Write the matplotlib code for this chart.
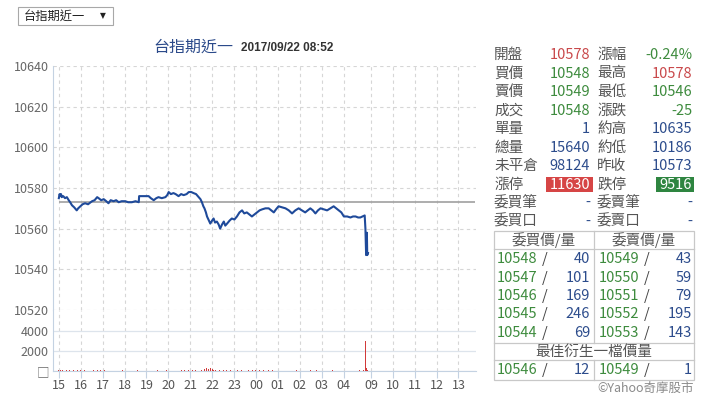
import matplotlib
matplotlib.use('Agg')
import matplotlib.pyplot as plt
from matplotlib.patches import Rectangle

plt.rcParams['font.family'] = ['Noto Sans CJK TC', 'DejaVu Sans']

# --- data --------------------------------------------------------------
price_times = ['15:00', '15:02', '15:04', '15:06', '15:08', '15:12', '15:17', '15:22',
               '15:27', '15:31', '15:36', '15:42', '15:49', '15:53', '15:59', '16:05',
               '16:12', '16:20', '16:31', '16:38', '16:45', '16:49', '16:56', '17:03',
               '17:10', '17:16', '17:22', '17:30', '17:37', '17:44', '17:52', '18:02',
               '18:10', '18:20', '18:30', '18:39', '18:40', '18:52', '19:06', '19:12',
               '19:20', '19:27', '19:33', '19:42', '19:52', '19:57', '20:01', '20:07',
               '20:14', '20:20', '20:28', '20:35', '20:42', '20:50', '20:56', '21:03',
               '21:09', '21:16', '21:23', '21:28', '21:32', '21:36', '21:39', '21:43',
               '21:46', '21:50', '21:55', '22:00', '22:04', '22:08', '22:13', '22:18',
               '22:22', '22:27', '22:32', '22:36', '22:41', '22:48', '22:54', '23:01',
               '23:08', '23:15', '23:22', '23:28', '23:35', '23:42', '23:49', '23:56',
               '00:03', '00:10', '00:17', '00:26', '00:35', '00:42', '00:49', '00:55',
               '01:02', '01:12', '01:21', '01:30', '01:39', '01:48', '01:57', '02:06',
               '02:15', '02:22', '02:29', '02:36', '02:43', '02:50', '02:57', '03:06',
               '03:15', '03:24', '03:33', '03:40', '03:47', '03:54', '04:01', '04:10',
               '04:19', '04:26', '04:33', '04:40', '04:46', '04:52', '04:58',
               '08:45', '08:47', '08:49', '08:50', '08:52']
prices = [10575, 10577, 10576, 10577, 10575.5, 10576, 10575, 10575.5,
          10574, 10573, 10571.5, 10570.5, 10569, 10570, 10571, 10572,
          10572.5, 10572, 10573.5, 10574, 10575.5, 10575, 10574, 10574.5,
          10573.5, 10572.5, 10574, 10573.5, 10574, 10573, 10573.5, 10573.5,
          10573, 10573, 10573.5, 10573, 10576, 10576, 10576, 10575,
          10574, 10575, 10575.5, 10575, 10575.5, 10576.5, 10578, 10577,
          10577.5, 10577, 10576, 10577, 10576.5, 10577, 10578, 10578,
          10577.5, 10577, 10575.5, 10574.5, 10573, 10571, 10570, 10568,
          10566, 10564.5, 10562.5, 10564, 10565, 10563, 10563.5, 10562,
          10560, 10562, 10563.5, 10561.5, 10562.5, 10564, 10565, 10564.5,
          10566, 10568, 10569, 10567.5, 10568, 10567, 10566, 10567,
          10568, 10569, 10569.5, 10570, 10570, 10569, 10568, 10569.5,
          10571, 10570.5, 10570, 10569, 10567.5, 10569, 10570, 10569,
          10568, 10569, 10570, 10569, 10567.5, 10569, 10570, 10569.5,
          10569, 10570, 10571, 10570, 10569, 10568, 10566, 10566,
          10565.5, 10566, 10566, 10565.5, 10565.5, 10566, 10566.5,
          10560, 10547, 10558, 10547, 10548]
prev_close = 10573

vol_times = ['15:00', '15:05', '15:10', '15:20', '15:30', '15:40', '15:50', '16:00',
             '16:10', '16:20', '16:35', '16:45', '16:55', '17:05', '17:55', '18:35',
             '18:45', '19:30', '19:40', '19:55', '20:35', '20:45', '20:55', '21:05',
             '21:15', '21:30', '21:40', '21:45', '21:50', '21:55', '22:00', '22:05',
             '22:10', '22:20', '22:30', '22:40', '22:50', '23:00', '23:10', '23:20',
             '23:30', '23:40', '23:50', '00:00', '00:10', '00:20', '00:35', '00:45',
             '01:50', '02:20', '02:30', '02:45', '03:30', '03:45', '04:45', '04:55',
             '08:45', '08:46', '08:47', '08:48', '08:50']
volumes = [150, 100, 120, 80, 100, 90, 120, 80,
           100, 60, 80, 100, 70, 90, 60, 80,
           70, 60, 80, 60, 80, 100, 90, 70,
           100, 120, 200, 300, 250, 350, 200, 150,
           120, 100, 80, 90, 80, 70, 90, 80,
           70, 80, 60, 70, 60, 80, 60, 60,
           60, 70, 60, 70, 60, 80, 60, 150,
           3000, 700, 300, 200, 150]

hour_labels = ['15', '16', '17', '18', '19', '20', '21', '22', '23', '00',
               '01', '02', '03', '04', '09', '10', '11', '12', '13']
price_ticks = [10520, 10540, 10560, 10580, 10600, 10620, 10640]
vol_ticks = [0, 2000, 4000]
vol_tick_labels = ['\u25a1', '2000', '4000']

title_name = '台指期近一'
title_time = '2017/09/22 08:52'

info_left_labels = ['開盤', '買價', '賣價', '成交', '單量', '總量', '未平倉', '漲停', '委買筆', '委買口']
info_left_values = ['10578', '10548', '10549', '10548', '1', '15640', '98124', '11630', '-', '-']
info_right_labels = ['漲幅', '最高', '最低', '漲跌', '約高', '約低', '昨收', '跌停', '委賣筆', '委賣口']
info_right_values = ['-0.24%', '10578', '10546', '-25', '10635', '10186', '10573', '9516', '-', '-']

bid_prices = ['10548', '10547', '10546', '10545', '10544']
bid_qty = ['40', '101', '169', '246', '69']
ask_prices = ['10549', '10550', '10551', '10552', '10553']
ask_qty = ['43', '59', '79', '195', '143']
best_bid = ('10546', '12')
best_ask = ('10549', '1')

RED = '#c9494b'
GREEN = '#3d8b3d'
BLUE = '#2c4c8c'
LABEL = '#555555'
LINE = '#1f4a9a'
GRID = '#d6d6d6'
AXIS = '#c4d2e2'


def idx(t):
    """Minutes on the session axis: night 15:00-05:00, then day 08:45-13:45."""
    h, m = map(int, t.split(':'))
    if h >= 15:
        return (h - 15) * 60 + m
    if h < 6:
        return (h + 9) * 60 + m
    return 840 + (h - 8) * 60 + m - 45


fig = plt.figure(figsize=(7.2, 4.15), dpi=100)
ax = fig.add_axes([53 / 720, 1 - 310 / 415, 423 / 720, 244 / 415])
axv = fig.add_axes([53 / 720, 1 - 371 / 415, 423 / 720, 61 / 415], sharex=ax)

xt = [idx(h + ':00') for h in hour_labels]

# price panel
ax.hlines(prev_close, idx('15:00'), idx('13:45'), color='#a0a0a0', lw=1.2, zorder=2)
ax.plot([idx(t) for t in price_times], prices, color=LINE, lw=1.5, zorder=3)
ax.set_ylim(10520, 10640)
ax.set_yticks(price_ticks)
ax.set_xlim(-16, 1143)
ax.set_xticks(xt)
ax.grid(True, color=GRID, linestyle=(0, (3, 3)), lw=0.8)
for s in ['top', 'right', 'bottom']:
    ax.spines[s].set_visible(False)
ax.spines['left'].set_color(AXIS)
ax.tick_params(axis='y', length=0, labelsize=9, labelcolor='#666666', pad=3)
ax.tick_params(axis='x', length=0, labelbottom=False)

# volume panel
axv.bar([idx(t) for t in vol_times], volumes, width=2.5, color='#d23a3a', zorder=3)
axv.set_ylim(0, 6100)
axv.set_yticks(vol_ticks)
axv.set_yticklabels(vol_tick_labels)
axv.set_xticks(xt)
axv.set_xticklabels(hour_labels)
axv.grid(axis='x', color=GRID, linestyle=(0, (3, 3)), lw=0.8)
axv.grid(axis='y', color='#dde4ec', linestyle='-', lw=0.9)
for s in ['top', 'right']:
    axv.spines[s].set_visible(False)
axv.spines['left'].set_color(AXIS)
axv.spines['bottom'].set_color(AXIS)
axv.tick_params(axis='y', length=0, labelsize=9, labelcolor='#666666', pad=3)
axv.tick_params(axis='x', length=5, color=AXIS, labelsize=9, labelcolor='#555555', pad=1)

# overlay in pixel coordinates for the page furniture
ov = fig.add_axes([0, 0, 1, 1])
ov.set_xlim(0, 720)
ov.set_ylim(415, 0)
ov.axis('off')

ov.add_patch(Rectangle((18, 7), 95, 18.5, fill=False, edgecolor='#a8a8a8', lw=0.8))
ov.text(24, 16.5, title_name, fontsize=8.8, color='#222222', va='center')
ov.text(100, 16, '\u25bc', fontsize=5.5, color='#222222', va='center', family='DejaVu Sans')

ov.text(153, 47, title_name, fontsize=11.5, color='#2b4a8a', va='center')
ov.text(241, 48, title_time, fontsize=8.5, color='#333333', va='center',
        family='Liberation Sans', fontweight='bold')

# quote table
left_colors = [RED, GREEN, GREEN, GREEN, BLUE, BLUE, BLUE, 'white', BLUE, BLUE]
right_colors = [GREEN, RED, GREEN, GREEN, BLUE, BLUE, BLUE, 'white', BLUE, BLUE]
for i in range(len(info_left_labels)):
    y = 55 + i * 18.5
    if info_left_labels[i] == '漲停':
        ov.add_patch(Rectangle((546, y - 7.5), 47, 15, color='#d64545', lw=0))
        ov.add_patch(Rectangle((656, y - 7.5), 38, 15, color='#2e8540', lw=0))
    ov.text(494, y, info_left_labels[i], fontsize=10.5, color=LABEL, va='center')
    ov.text(590, y, info_left_values[i], fontsize=10.5, color=left_colors[i], va='center', ha='right')
    ov.text(597, y, info_right_labels[i], fontsize=10.5, color=LABEL, va='center')
    ov.text(692, y, info_right_values[i], fontsize=10.5, color=right_colors[i], va='center', ha='right')

# order book
bc = '#c8c8c8'
ov.add_patch(Rectangle((494, 231), 200, 149, fill=False, edgecolor=bc, lw=0.9))
for yy in [249, 343.3, 360]:
    ov.plot([494, 694], [yy, yy], color=bc, lw=0.9)
ov.plot([593.5, 593.5], [231, 343.3], color=bc, lw=0.9)
ov.plot([593.5, 593.5], [360, 380], color=bc, lw=0.9)
ov.text(544, 240, '委買價/量', fontsize=10.5, color=LABEL, va='center', ha='center')
ov.text(644, 240, '委賣價/量', fontsize=10.5, color=LABEL, va='center', ha='center')


def book_row(y, bp, bq, ap, aq):
    ov.text(497, y, bp, fontsize=10.5, color=GREEN, va='center')
    ov.text(545, y, '/', fontsize=10.5, color='#444444', va='center', ha='center')
    ov.text(590, y, bq, fontsize=10.5, color=BLUE, va='center', ha='right')
    ov.text(599, y, ap, fontsize=10.5, color=GREEN, va='center')
    ov.text(647, y, '/', fontsize=10.5, color='#444444', va='center', ha='center')
    ov.text(692, y, aq, fontsize=10.5, color=BLUE, va='center', ha='right')


for i in range(len(bid_prices)):
    book_row(259.3 + i * 18.3, bid_prices[i], bid_qty[i], ask_prices[i], ask_qty[i])
ov.text(594, 351.7, '最佳衍生一檔價量', fontsize=10.5, color=LABEL, va='center', ha='center')
book_row(370, best_bid[0], best_bid[1], best_ask[0], best_ask[1])

ov.text(694, 388.5, '©Yahoo奇摩股市', fontsize=9, color='#8a8a8a', va='center', ha='right')

fig.savefig('out.png', dpi=100)
